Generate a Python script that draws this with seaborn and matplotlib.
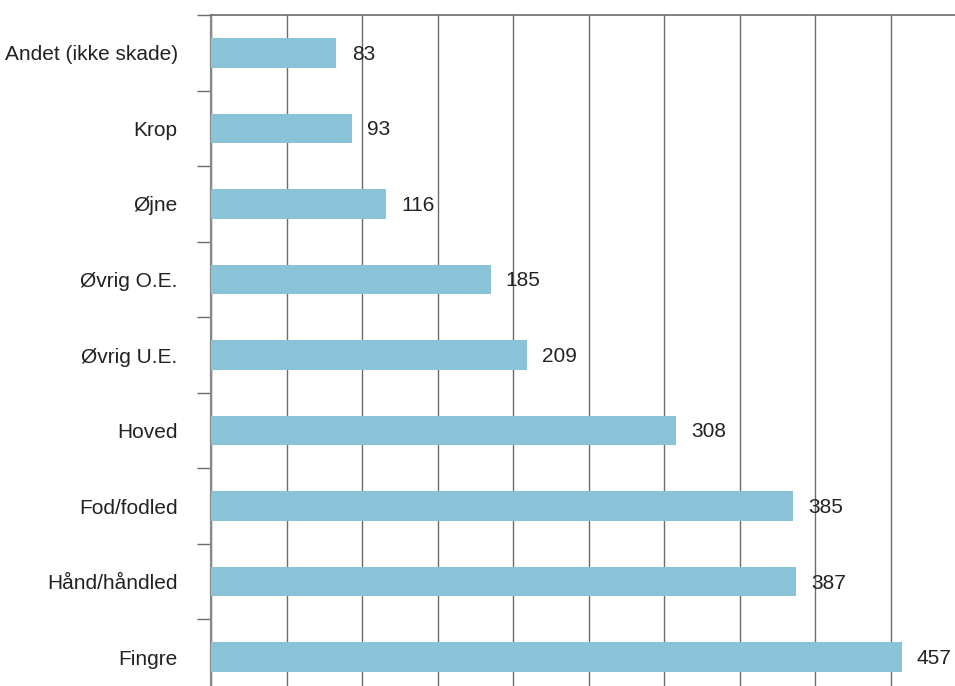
import matplotlib
matplotlib.use("Agg")
import matplotlib.pyplot as plt
import seaborn as sns
import pandas as pd
import numpy as np

categories = ["Andet (ikke skade)", "Krop", "Øjne", "Øvrig O.E.", "Øvrig U.E.",
              "Hoved", "Fod/fodled", "Hånd/håndled", "Fingre"]
values = [83, 93, 116, 185, 209, 308, 385, 387, 457]

sns.set_theme(style="white")
plt.rcParams["font.family"] = ["Liberation Sans", "DejaVu Sans"]

df = pd.DataFrame({"kategori": categories, "antal": values})

W, H = 955, 686
fig = plt.figure(figsize=(W / 100, H / 100), dpi=100)
left, right = 211 / W, 966.6 / W
top, bottom = 1 - 15 / H, 1 - 695 / H
ax = fig.add_axes([left, bottom, right - left, top - bottom])

sns.barplot(data=df, x="antal", y="kategori", orient="h", color="#8AC3D7",
            saturation=1, width=0.39, linewidth=0, ax=ax, zorder=3)

ax.set_xlim(0, 500)
ax.set_ylim(len(categories) - 0.5, -0.5)
ax.set_xticks(np.arange(0, 501, 50))
ax.xaxis.grid(True, color="#6b6b6b", linewidth=1.0, zorder=0)
ax.yaxis.grid(False)
ax.set_axisbelow(True)
ax.tick_params(axis="x", length=0, labelbottom=False)

# category labels at centres, boundary ticks between categories
ax.set_yticks(range(len(categories)))
ax.set_yticks(np.arange(-0.5, len(categories) + 0.5, 1), minor=True)
ax.tick_params(axis="y", which="major", length=0, pad=24, labelsize=15,
               labelcolor="#222222")
ax.tick_params(axis="y", which="minor", direction="out", length=10,
               width=1.0, color="#6b6b6b", left=True)

ax.set_xlabel("")
ax.set_ylabel("")

for name in ["right", "bottom"]:
    ax.spines[name].set_visible(False)
ax.spines["top"].set_color("#6b6b6b")
ax.spines["top"].set_linewidth(1.2)
ax.spines["left"].set_color("#8a8a8a")
ax.spines["left"].set_linewidth(1.6)

for i, v in enumerate(values):
    ax.annotate(f"{v}", xy=(v, i), xytext=(11, -1), textcoords="offset points",
                va="center", ha="left", fontsize=15, color="#222222")

fig.savefig("out.png", dpi=100)
